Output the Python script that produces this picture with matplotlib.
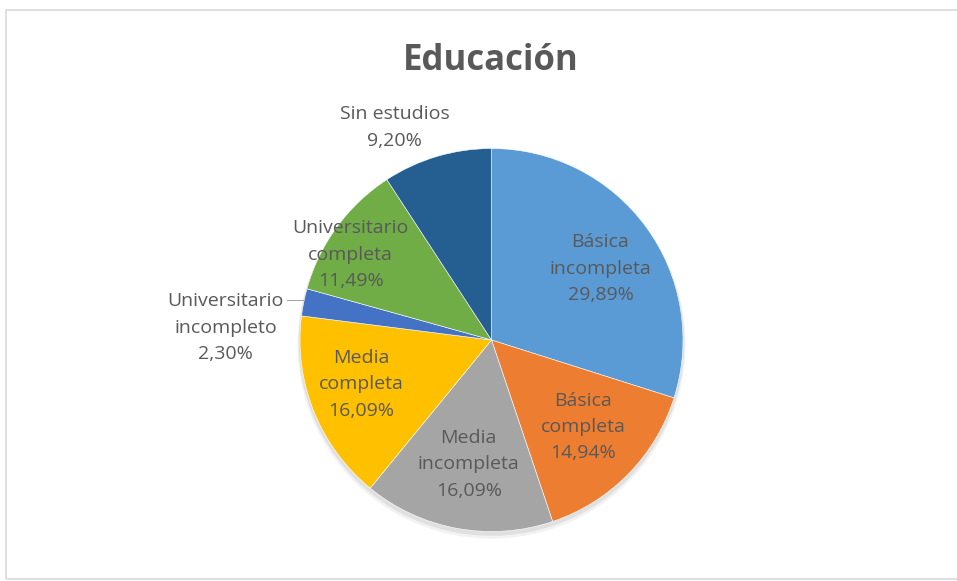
import numpy as np
import matplotlib.pyplot as plt
from matplotlib.patches import Rectangle, Circle

categorias = ["Básica\nincompleta", "Básica\ncompleta", "Media\nincompleta", "Media\ncompleta",
              "Universitario\nincompleto", "Universitario\ncompleta", "Sin estudios"]
porcentajes = [29.89, 14.94, 16.09, 16.09, 2.30, 11.49, 9.20]
etiquetas = ["29,89%", "14,94%", "16,09%", "16,09%", "2,30%", "11,49%", "9,20%"]
colores = ["#5B9BD5", "#ED7D31", "#A5A5A5", "#FFC000", "#4472C4", "#70AD47", "#255E91"]

# label layout: radial distance (in radii) and angle offset (deg)
dist = [0.68, 0.66, 0.66, 0.72, 1.39, 0.86, 1.22]
desvio = [-3, 1, 0, -3, 8.7, 5, 8]

plt.rcParams['font.family'] = ['Open Sans', 'DejaVu Sans']
TXT = "#595959"

fig = plt.figure(figsize=(9.57, 5.81), dpi=100)
fig.patches.append(Rectangle((6 / 957, 2 / 581), 960 / 957, 569 / 581, transform=fig.transFigure,
                             fill=False, edgecolor="#D9D9D9", linewidth=1.2))

R = 191.5
cx, cy = 491.5, 581 - 340
ax = fig.add_axes([(cx - 2 * R) / 957, (cy - 2 * R) / 581, 4 * R / 957, 4 * R / 581])
# soft shadow under the pie
for k, al in [(0.025, 0.05), (0.015, 0.07)]:
    ax.add_patch(Circle((0, -k), 1.0 + k / 2, color="black", alpha=al, lw=0, zorder=0))
wedges, _ = ax.pie(porcentajes, colors=colores, startangle=90, counterclock=False, radius=1,
                   wedgeprops=dict(edgecolor="white", linewidth=0.4))
ax.set_xlim(-2, 2)
ax.set_ylim(-2, 2)
ax.set_aspect("equal")
ax.axis("off")

for w, cat, lab, d, off in zip(wedges, categorias, etiquetas, dist, desvio):
    ang = np.deg2rad((w.theta1 + w.theta2) / 2 + off)
    x, y = d * np.cos(ang), d * np.sin(ang)
    ax.text(x, y, cat + "\n" + lab, ha="center", va="center", fontsize=14, color=TXT,
            linespacing=1.6)

# leader line for the small slice
w = wedges[4]
a = np.deg2rad((w.theta1 + w.theta2) / 2)
ax.plot([np.cos(a) * 1.0, -1.07], [np.sin(a) * 1.0 + 0.01, np.sin(a) * 1.0 + 0.01], color="#A6A6A6", lw=0.8)

fig.text(491 / 957, 1 - 61 / 581, "Educación", ha="center", va="center", fontsize=25,
         fontweight="bold", color=TXT)

fig.savefig("out.png", dpi=100)
